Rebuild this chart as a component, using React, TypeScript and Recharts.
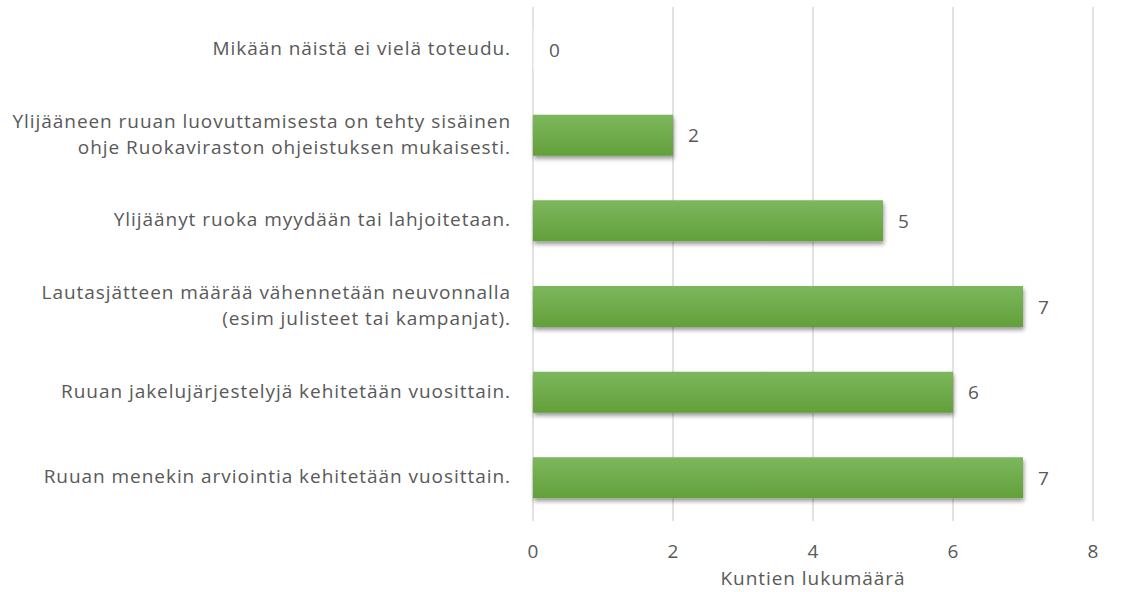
import { BarChart, Bar, XAxis, YAxis, CartesianGrid, LabelList, Cell } from "recharts"

// categories, top to bottom ("\n" marks the line break used in the original)
const categories = [
    "Mikään näistä ei vielä toteudu.",
    "Ylijääneen ruuan luovuttamisesta on tehty sisäinen\nohje Ruokaviraston ohjeistuksen mukaisesti.",
    "Ylijäänyt ruoka myydään tai lahjoitetaan.",
    "Lautasjätteen määrää vähennetään neuvonnalla\n(esim julisteet tai kampanjat).",
    "Ruuan jakelujärjestelyjä kehitetään vuosittain.",
    "Ruuan menekin arviointia kehitetään vuosittain.",
]
const counts = [0, 2, 5, 7, 6, 7]
const xTicks = [0, 2, 4, 6, 8]
const xTitle = "Kuntien lukumäärä"

const chartData = categories.map((name, i) => ({ name, count: counts[i] }))

const TEXT = "#595959"
const FONT = "'Open Sans', Lato, sans-serif"
const FS = 19
const LS = 0.95

const CategoryTick = ({ x, y, payload }: any) => {
    const lines = String(payload.value).split("\n")
    const lh = 26
    const start = -((lines.length - 1) * lh) / 2 - 2
    return (
        <text x={x} y={y} textAnchor="end" fill={TEXT} fontSize={FS} fontFamily={FONT} letterSpacing={LS}>
            {lines.map((l, i) => (
                <tspan key={i} x={x} dy={i === 0 ? start : lh} dominantBaseline="central">
                    {l}
                </tspan>
            ))}
        </text>
    )
}

const ValueLabel = (props: any) => {
    const { x, y, width, height, value } = props
    return (
        <text
            x={Number(x) + Number(width || 0) + 15}
            y={Number(y) + Number(height) / 2}
            fill={TEXT}
            fontSize={FS}
            fontFamily={FONT}
            dominantBaseline="central"
        >
            {value}
        </text>
    )
}

export default function App() {
    return (
        <div style={{ position: "absolute", left: 0, top: 0, width: 1134, height: 592, background: "#fff", fontFamily: FONT }}>
            <BarChart
                layout="vertical"
                width={1134}
                height={592}
                data={chartData}
                margin={{ top: 7, right: 41, left: 0, bottom: 0 }}
            >
                <defs>
                    <linearGradient id="barFill" x1="0" y1="0" x2="0" y2="1">
                        <stop offset="0%" stopColor="#7db75d" />
                        <stop offset="100%" stopColor="#62a03a" />
                    </linearGradient>
                    <filter id="barShadow" x="-20%" y="-20%" width="140%" height="160%">
                        <feDropShadow dx="1" dy="3" stdDeviation="2.2" floodColor="#000" floodOpacity="0.4" />
                    </filter>
                </defs>
                <CartesianGrid horizontal={false} stroke="#d9d9d9" strokeWidth={1.5} />
                <XAxis
                    type="number"
                    domain={[0, 8]}
                    ticks={xTicks}
                    height={71}
                    axisLine={false}
                    tickLine={false}
                    tickMargin={18}
                    tick={{ fontSize: FS, fill: TEXT }}
                    label={{ value: xTitle, position: "insideBottom", offset: 7, fontSize: FS, fill: TEXT, letterSpacing: LS }}
                />
                <YAxis
                    type="category"
                    dataKey="name"
                    width={533}
                    axisLine={false}
                    tickLine={false}
                    tick={<CategoryTick />}
                    tickMargin={16}
                    interval={0}
                />
                <Bar
                    dataKey="count"
                    barSize={41}
                    minPointSize={1}
                    fill="url(#barFill)"
                    isAnimationActive={false}
                >
                    {chartData.map((d, i) => (
                        <Cell
                            key={i}
                            fill={d.count === 0 ? "#eeeeee" : "url(#barFill)"}
                            filter={d.count === 0 ? undefined : "url(#barShadow)"}
                        />
                    ))}
                    <LabelList dataKey="count" content={<ValueLabel />} />
                </Bar>
            </BarChart>
        </div>
    )
}
